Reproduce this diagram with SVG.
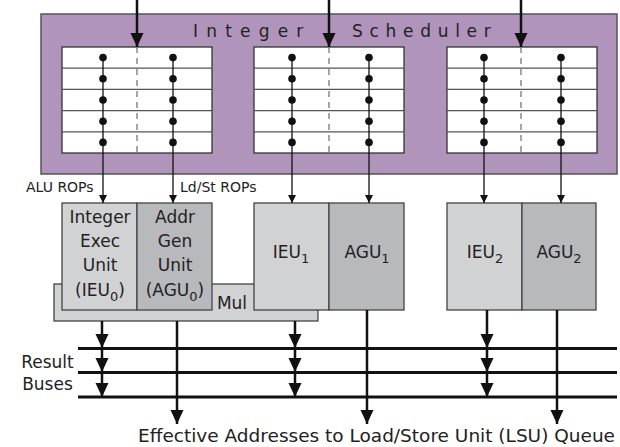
<svg xmlns="http://www.w3.org/2000/svg" width="620" height="447" viewBox="0 0 620 447">
<defs>
<marker id="big" markerUnits="userSpaceOnUse" markerWidth="15" markerHeight="14" refX="14" refY="6.5" orient="auto"><path d="M0,0 L14,6.5 L0,13 z" fill="#111"/></marker>
<marker id="small" markerUnits="userSpaceOnUse" markerWidth="9" markerHeight="9" refX="8" refY="4" orient="auto"><path d="M0,0 L8,4 L0,8 z" fill="#111"/></marker>
</defs>
<style>
text{font-family:"DejaVu Sans","Liberation Sans",sans-serif;fill:#222}
.t{font-size:17px;text-anchor:middle}
.tab{fill:#fff;stroke:#333;stroke-width:1.3}
.row{stroke:#555;stroke-width:1.3}
.dash{stroke:#777;stroke-width:1.3;stroke-dasharray:6,5}
.dot{fill:#111}
.col{stroke:#111;stroke-width:1.3}
.ieu{fill:#d1d2d4;stroke:#444;stroke-width:1.3}
.agu{fill:#b8b9bc;stroke:#444;stroke-width:1.3}
.in{stroke:#111;stroke-width:1.3;fill:none;marker-end:url(#small)}
.out{stroke:#111;stroke-width:2.5;fill:none;marker-end:url(#big)}
.bus{stroke:#111;stroke-width:3}
.lbl{font-size:14px}
</style>
<g id="scheduler">
<rect x="41" y="14" width="576" height="160" fill="#b094bc" stroke="#555" stroke-width="1.5"/>
<text x="193" y="37" style="font-size:17px;letter-spacing:8.2px">Integer</text>
<text x="352" y="37" style="font-size:17px;letter-spacing:6.7px">Scheduler</text>
</g>
<g id="table1">
<rect class="tab" x="62" y="47" width="150" height="106"/>
<path class="row" d="M62,68.2H212M62,89.4H212M62,110.6H212M62,131.8H212"/>
<line class="dash" x1="137" y1="47" x2="137" y2="153"/>
<g class="dot"><circle cx="103" cy="57.6" r="3.8"/><circle cx="103" cy="78.8" r="3.8"/><circle cx="103" cy="100" r="3.8"/><circle cx="103" cy="121.2" r="3.8"/><circle cx="103" cy="142.4" r="3.8"/>
<circle cx="173" cy="57.6" r="3.8"/><circle cx="173" cy="78.8" r="3.8"/><circle cx="173" cy="100" r="3.8"/><circle cx="173" cy="121.2" r="3.8"/><circle cx="173" cy="142.4" r="3.8"/></g>
</g>
<g id="table2">
<rect class="tab" x="254" y="47" width="150" height="106"/>
<path class="row" d="M254,68.2H404M254,89.4H404M254,110.6H404M254,131.8H404"/>
<line class="dash" x1="329" y1="47" x2="329" y2="153"/>
<g class="dot"><circle cx="292" cy="57.6" r="3.8"/><circle cx="292" cy="78.8" r="3.8"/><circle cx="292" cy="100" r="3.8"/><circle cx="292" cy="121.2" r="3.8"/><circle cx="292" cy="142.4" r="3.8"/>
<circle cx="369" cy="57.6" r="3.8"/><circle cx="369" cy="78.8" r="3.8"/><circle cx="369" cy="100" r="3.8"/><circle cx="369" cy="121.2" r="3.8"/><circle cx="369" cy="142.4" r="3.8"/></g>
</g>
<g id="table3">
<rect class="tab" x="447" y="47" width="150" height="106"/>
<path class="row" d="M447,68.2H597M447,89.4H597M447,110.6H597M447,131.8H597"/>
<line class="dash" x1="521" y1="47" x2="521" y2="153"/>
<g class="dot"><circle cx="484" cy="57.6" r="3.8"/><circle cx="484" cy="78.8" r="3.8"/><circle cx="484" cy="100" r="3.8"/><circle cx="484" cy="121.2" r="3.8"/><circle cx="484" cy="142.4" r="3.8"/>
<circle cx="561" cy="57.6" r="3.8"/><circle cx="561" cy="78.8" r="3.8"/><circle cx="561" cy="100" r="3.8"/><circle cx="561" cy="121.2" r="3.8"/><circle cx="561" cy="142.4" r="3.8"/></g>
</g>
<g id="mul">
<rect class="ieu" x="54" y="284" width="264" height="37"/>
<text class="t" x="232" y="309">Mul</text>
</g>
<g id="ieu0">
<rect class="ieu" x="62" y="203" width="75" height="107"/>
<text class="t" x="100" y="223">Integer</text>
<text class="t" x="100" y="247">Exec</text>
<text class="t" x="100" y="271">Unit</text>
<text class="t" x="100" y="296">(IEU<tspan dy="5" font-size="13">0</tspan><tspan dy="-5">)</tspan></text>
</g>
<g id="agu0">
<rect class="agu" x="137" y="203" width="75" height="107"/>
<text class="t" x="175" y="223">Addr</text>
<text class="t" x="175" y="247">Gen</text>
<text class="t" x="175" y="271">Unit</text>
<text class="t" x="175" y="296">(AGU<tspan dy="5" font-size="13">0</tspan><tspan dy="-5">)</tspan></text>
</g>
<g id="ieu1">
<rect class="ieu" x="254" y="203" width="75" height="107"/>
<text class="t" x="291" y="258">IEU<tspan dy="5" font-size="13">1</tspan></text>
</g>
<g id="agu1">
<rect class="agu" x="329" y="203" width="75" height="107"/>
<text class="t" x="367" y="258">AGU<tspan dy="5" font-size="13">1</tspan></text>
</g>
<g id="ieu2">
<rect class="ieu" x="447" y="203" width="75" height="107"/>
<text class="t" x="485" y="258">IEU<tspan dy="5" font-size="13">2</tspan></text>
</g>
<g id="agu2">
<rect class="agu" x="522" y="203" width="74" height="107"/>
<text class="t" x="559" y="258">AGU<tspan dy="5" font-size="13">2</tspan></text>
</g>
<g id="labels">
<text class="lbl" x="26" y="192">ALU ROPs</text>
<text class="lbl" x="180" y="192">Ld/St ROPs</text>
<text class="t" x="47.5" y="368">Result</text>
<text class="t" x="47.5" y="390">Buses</text>
<text x="138" y="442" style="font-size:18px" textLength="477" lengthAdjust="spacingAndGlyphs">Effective Addresses to Load/Store Unit (LSU) Queue</text>
</g>
<g id="connectors">
<line class="out" x1="137" y1="0" x2="137" y2="47"/>
<line class="out" x1="329" y1="0" x2="329" y2="47"/>
<line class="out" x1="521" y1="0" x2="521" y2="47"/>
<line class="in" x1="103" y1="57.6" x2="103" y2="203"/>
<line class="in" x1="173" y1="57.6" x2="173" y2="203"/>
<line class="in" x1="292" y1="57.6" x2="292" y2="203"/>
<line class="in" x1="369" y1="57.6" x2="369" y2="203"/>
<line class="in" x1="484" y1="57.6" x2="484" y2="203"/>
<line class="in" x1="561" y1="57.6" x2="561" y2="203"/>
<line class="bus" x1="78" y1="348.5" x2="617" y2="348.5"/>
<line class="bus" x1="78" y1="372.5" x2="617" y2="372.5"/>
<line class="bus" x1="78" y1="397" x2="617" y2="397"/>
<line class="out" x1="102" y1="321" x2="102" y2="348"/>
<line class="out" x1="102" y1="348" x2="102" y2="372"/>
<line class="out" x1="102" y1="372" x2="102" y2="397"/>
<line class="out" x1="295" y1="321" x2="295" y2="348"/>
<line class="out" x1="295" y1="348" x2="295" y2="372"/>
<line class="out" x1="295" y1="372" x2="295" y2="397"/>
<line class="out" x1="487" y1="310" x2="487" y2="348"/>
<line class="out" x1="487" y1="348" x2="487" y2="372"/>
<line class="out" x1="487" y1="372" x2="487" y2="397"/>
<line class="out" x1="177" y1="321" x2="177" y2="424"/>
<line class="out" x1="367" y1="310" x2="367" y2="424"/>
<line class="out" x1="557" y1="310" x2="557" y2="424"/>
</g>
</svg>
